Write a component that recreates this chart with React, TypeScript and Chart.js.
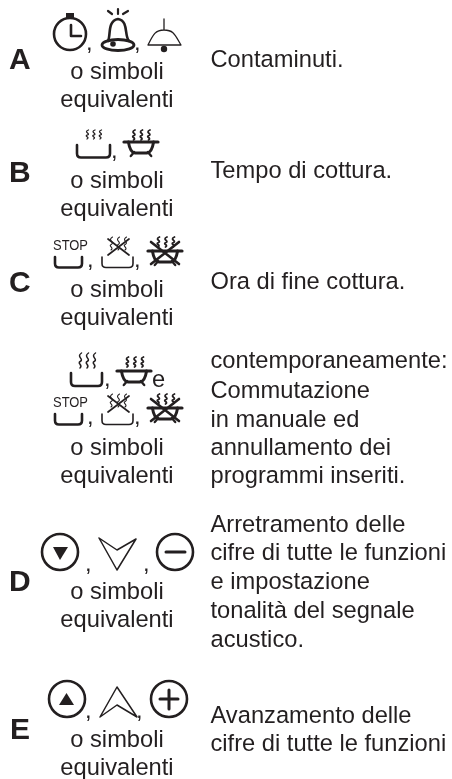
import React, { useEffect, useRef } from "react";
import { Chart, registerables } from "chart.js";

Chart.register(...registerables);

const letters = ["A", "B", "C", "D", "E"];
const symbolCaption = ["o simboli", "equivalenti"];
const descA = ["Contaminuti."];
const descB = ["Tempo di cottura."];
const descC = ["Ora di fine cottura."];
const descManual = ["contemporaneamente:", "Commutazione", "in manuale ed", "annullamento dei", "programmi inseriti."];
const descD = ["Arretramento delle", "cifre di tutte le funzioni", "e impostazione", "tonalità del segnale", "acustico."];
const descE = ["Avanzamento delle", "cifre di tutte le funzioni"];

const INK = "#231f20";
const FONT = '"Liberation Sans", Arial, sans-serif';
const BODY = 23.7;
const W = 452;
const H = 779;

const diagramPlugin = {
  id: "diagram",
  afterDatasetsDraw(chart: any) {
    const c: CanvasRenderingContext2D = chart.ctx;
    const X = (v: number) => chart.scales.x.getPixelForValue(v);
    const Y = (v: number) => chart.scales.y.getPixelForValue(v);

    const text = (s: string, x: number, y: number, size: number, align: CanvasTextAlign = "left", weight = "normal", maxWidth?: number) => {
      c.font = `${weight} ${size}px ${FONT}`;
      c.textAlign = align;
      c.textBaseline = "alphabetic";
      c.fillStyle = INK;
      if (maxWidth) c.fillText(s, X(x), Y(y), maxWidth);
      else c.fillText(s, X(x), Y(y));
    };
    const comma = (x: number, y: number) => text(",", x, y, BODY);
    const stroke = (lw: number, draw: () => void) => {
      c.strokeStyle = INK;
      c.lineWidth = lw;
      c.lineCap = "round";
      c.lineJoin = "round";
      c.beginPath();
      draw();
      c.stroke();
    };
    const M = (x: number, y: number) => c.moveTo(X(x), Y(y));
    const L = (x: number, y: number) => c.lineTo(X(x), Y(y));
    const Q = (a: number, b: number, x: number, y: number) => c.quadraticCurveTo(X(a), Y(b), X(x), Y(y));
    const B = (a: number, b: number, d: number, e: number, x: number, y: number) => c.bezierCurveTo(X(a), Y(b), X(d), Y(e), X(x), Y(y));
    const fillPoly = (pts: number[][]) => {
      c.fillStyle = INK;
      c.beginPath();
      pts.forEach((p, i) => (i ? L(p[0], p[1]) : M(p[0], p[1])));
      c.closePath();
      c.fill();
    };
    const disc = (x: number, y: number, r: number) => {
      c.fillStyle = INK;
      c.beginPath();
      c.arc(X(x), Y(y), r, 0, Math.PI * 2);
      c.fill();
    };
    const ring = (x: number, y: number, r: number, lw = 2.6) =>
      stroke(lw, () => c.arc(X(x), Y(y), r, 0, Math.PI * 2));

    const steam = (x: number, top: number, h: number, lw: number) =>
      stroke(lw, () => {
        M(x + 1.5, top);
        B(x - 4, top + h * 0.25, x + 4, top + h * 0.4, x + 0.5, top + h * 0.55);
        B(x - 3.5, top + h * 0.7, x + 3.5, top + h * 0.8, x, top + h);
      });
    const pot = (x0: number, x1: number, top: number, bottom: number, lw = 2.6) =>
      stroke(lw, () => {
        M(x0, top);
        L(x0, bottom - 4);
        Q(x0, bottom, x0 + 4, bottom);
        L(x1 - 4, bottom);
        Q(x1, bottom, x1, bottom - 4);
        L(x1, top);
      });
    const bowl = (x0: number, x1: number, y: number, h: number) => {
      stroke(3.2, () => {
        M(x0, y);
        L(x1, y);
      });
      const w = x1 - x0;
      stroke(3, () => {
        M(x0 + w * 0.13, y);
        Q(x0 + w * 0.18, y + h * 0.75, x0 + w * 0.32, y + h * 0.78);
        L(x0 + w * 0.68, y + h * 0.78);
        Q(x0 + w * 0.82, y + h * 0.75, x0 + w * 0.87, y);
      });
      stroke(2.4, () => {
        M(x0 + w * 0.3, y + h * 0.72);
        L(x0 + w * 0.2, y + h);
        M(x0 + w * 0.7, y + h * 0.72);
        L(x0 + w * 0.8, y + h);
      });
    };
    const flames = (x: number, top: number) => {
      [0, 7.5, 15].forEach((d) => steam(x + d, top, 10, 1.8));
    };
    const cross = (x0: number, y0: number, x1: number, y1: number, lw = 1.4) =>
      stroke(lw, () => {
        M(x0, y0);
        L(x1, y1);
        M(x1, y0);
        L(x0, y1);
      });
    const stopRow = (dy: number) => {
      text("STOP", 53, 407 + dy, 14, "left", "normal", 35);
      pot(55, 82, 414 + dy, 424.5 + dy);
      comma(87, 424 + dy);
      pot(102, 133, 414 + dy, 424.5 + dy, 1.6);
      [111, 118, 125].forEach((s) => steam(s, 394 + dy, 13, 1.1));
      cross(108, 396 + dy, 129, 412 + dy, 1.7);
      comma(134, 424 + dy);
      bowl(148, 182, 408 + dy, 14);
      flames(158, 394 + dy);
      cross(151, 399 + dy, 179, 421 + dy, 2.6);
    };

    // Letters
    const letterX = [9, 9, 9, 9, 10];
    const letterY = [69, 182, 292, 591, 739];
    letters.forEach((l, i) => text(l, letterX[i], letterY[i], 30, "left", "bold"));

    // Captions under the symbols
    [79, 188, 297, 455, 599, 747].forEach((y) => {
      text(symbolCaption[0], 117, y, BODY, "center");
      text(symbolCaption[1], 117, y + 28, BODY, "center");
    });

    // Descriptions
    const block = (lines: string[], ys: number[]) =>
      lines.forEach((s, i) => text(s, 210.5, ys[i], BODY));
    block(descA, [67]);
    block(descB, [178]);
    block(descC, [289]);
    block(descManual, [368, 398, 427, 455, 483]);
    block(descD, [532, 560, 589, 618, 647]);
    block(descE, [723, 751]);

    // A: stopwatch
    ring(70, 34, 16);
    c.fillStyle = INK;
    c.fillRect(X(66), Y(13), 8, 6);
    stroke(2.6, () => {
      M(71, 25);
      L(71, 36);
      L(81, 36);
    });
    comma(86, 50);
    // A: bell with rays
    stroke(2.6, () => {
      M(108, 41);
      B(111, 36, 107, 21, 118, 19);
      B(129, 21, 124, 36, 129, 41);
    });
    stroke(2.8, () => c.ellipse(X(118), Y(45), 16, 5.5, 0, 0, Math.PI * 2));
    disc(113, 44, 2.8);
    stroke(2.2, () => {
      M(108, 11);
      L(112, 14);
      M(118, 9);
      L(118, 14);
      M(123, 14);
      L(128, 11);
    });
    comma(134, 50);
    // A: outline bell
    stroke(1.3, () => {
      M(164, 19);
      L(164, 30);
      B(174, 30, 175, 35, 181, 45);
      L(148, 45);
      B(153, 35, 155, 30, 164, 30);
    });
    disc(164, 49, 3.2);

    // B
    pot(77, 110, 145, 157.5);
    [87, 93.5, 100].forEach((s) => steam(s, 130, 9, 1.3));
    comma(111, 158);
    bowl(124, 158, 142, 14);
    flames(133.5, 130);

    // C row and the matching row of the combined entry
    stopRow(-157);
    stopRow(0);
    pot(71, 102, 373, 386);
    [80, 87, 94].forEach((s) => steam(s, 353, 15, 1.5));
    comma(104, 386);
    bowl(117, 151, 371, 14);
    flames(127, 357);
    text("e", 152, 387, BODY);

    // D
    ring(60, 552, 18);
    fillPoly([[53, 547], [68, 547], [60, 560]]);
    comma(85, 571);
    stroke(1.5, () => {
      M(99, 538);
      L(117, 550);
      L(136, 539);
      L(117, 570);
      c.closePath();
    });
    comma(143, 571);
    ring(175, 552, 18);
    stroke(3, () => {
      M(166, 552);
      L(185, 552);
    });

    // E
    ring(67, 699, 18);
    fillPoly([[59, 705], [74, 705], [66.5, 693]]);
    comma(85, 718);
    stroke(1.5, () => {
      M(117, 687);
      L(137, 717);
      L(117, 705);
      L(100, 717);
      c.closePath();
    });
    comma(136, 718);
    ring(169, 699, 18);
    stroke(3, () => {
      M(160, 699);
      L(178, 699);
      M(169, 690);
      L(169, 709);
    });
  },
};

export default function App() {
  const ref = useRef<HTMLCanvasElement>(null);
  useEffect(() => {
    document.body.style.margin = "0";
    document.body.style.background = "#fff";
    const chart = new Chart(ref.current!, {
      type: "scatter",
      data: { datasets: [{ data: [], pointRadius: 0 }] },
      plugins: [diagramPlugin],
      options: {
        animation: false,
        responsive: false,
        layout: { padding: 0 },
        plugins: { legend: { display: false }, tooltip: { enabled: false } },
        scales: {
          x: { type: "linear", min: 0, max: W, display: false },
          y: { type: "linear", min: 0, max: H, reverse: true, display: false },
        },
      },
    });
    return () => chart.destroy();
  }, []);
  return <canvas ref={ref} width={W} height={H} style={{ display: "block" }} />;
}
